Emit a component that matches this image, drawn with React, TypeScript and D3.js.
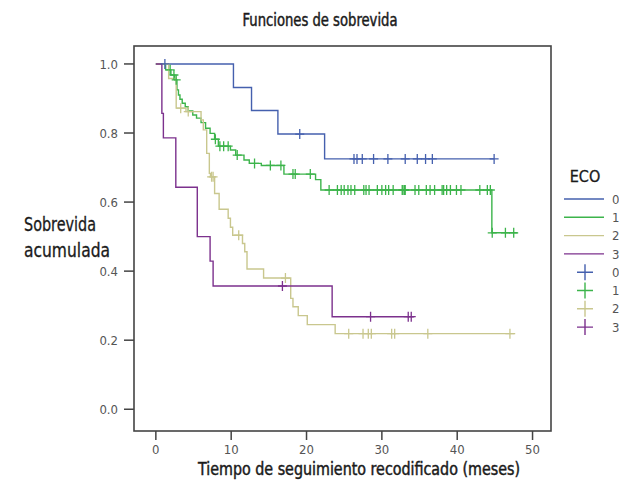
import React from "react";
import * as d3 from "d3";

// ---- data ----
const ecoGroups = ["0", "1", "2", "3"];
const ecoColors = ["#4560ae", "#3cb44b", "#c9c78e", "#7c318d"];

const eco0Steps: [number, number][] = [
  [0, 1.0], [10.3, 0.932], [12.7, 0.865], [16.2, 0.797], [22.4, 0.725],
];
const eco0Censored = [1.2, 19.1, 26.3, 26.7, 27.4, 28.9, 30.8, 33.1, 34.7, 35.8, 36.7, 44.9];
const eco0End = 44.9;

const eco1Steps: [number, number][] = [
  [0, 1.0], [1.3, 0.983], [2.0, 0.968], [2.5, 0.954], [2.8, 0.925], [3.0, 0.91],
  [3.2, 0.898], [3.5, 0.886], [3.9, 0.876], [4.3, 0.864], [4.9, 0.852], [5.4, 0.843],
  [6.0, 0.83], [6.6, 0.814], [7.2, 0.799], [7.8, 0.782], [8.3, 0.762], [9.9, 0.751],
  [10.6, 0.736], [11.7, 0.722], [12.4, 0.712], [14.0, 0.706], [17.0, 0.681],
  [21.2, 0.665], [21.9, 0.635], [44.6, 0.511],
];
const eco1Censored = [
  1.9, 2.4, 2.7, 7.9, 8.5, 9.0, 9.6, 10.8, 13.1, 15.2, 16.6, 18.2, 18.5, 20.5,
  23.0, 24.1, 24.6, 25.0, 25.5, 25.9, 26.4, 27.6, 27.9, 28.3, 29.4, 30.0, 30.5,
  30.9, 31.5, 32.7, 32.8, 33.0, 33.1, 34.4, 34.9, 35.9, 36.4, 37.0, 38.0, 38.2,
  38.6, 39.1, 39.9, 40.5, 43.0, 44.0, 44.4, 44.65, 46.4, 47.5,
];
const eco1End = 48.0;

const eco2Steps: [number, number][] = [
  [0, 1.0], [1.7, 0.958], [2.7, 0.872], [4.0, 0.862], [6.0, 0.838], [6.3, 0.809],
  [6.75, 0.741], [7.1, 0.683], [7.25, 0.673], [7.8, 0.625], [8.4, 0.579],
  [9.6, 0.553], [9.9, 0.527], [10.2, 0.504], [11.5, 0.48], [11.8, 0.456],
  [12.1, 0.406], [14.3, 0.38], [17.9, 0.321], [18.2, 0.297], [18.9, 0.271],
  [20.1, 0.245], [23.8, 0.219],
];
const eco2Censored = [3.3, 4.3, 7.4, 7.6, 11.0, 17.2, 25.6, 27.5, 28.2, 28.6, 31.3, 31.7, 36.1, 47.0];
const eco2End = 47.7;

const eco3Steps: [number, number][] = [
  [0, 1.0], [0.8, 0.857], [1.0, 0.786], [2.65, 0.643], [5.5, 0.5], [7.2, 0.429],
  [7.6, 0.357], [23.4, 0.268],
];
const eco3Censored = [16.8, 28.5, 33.5, 33.9];
const eco3End = 34.3;

const xTicks = [0, 10, 20, 30, 40, 50];
const yTicks = [0.0, 0.2, 0.4, 0.6, 0.8, 1.0];

const titleText = "Funciones de sobrevida";
const xTitle = "Tiempo de seguimiento recodificado (meses)";
const yTitleLines = ["Sobrevida", "acumulada"];
const legendTitle = "ECO";

// ---- layout ----
const W = 619;
const H = 480;
const L = 134, R = 551, T = 46, B = 431;
const FONT = "'Liberation Sans Narrow', 'DejaVu Sans Condensed', 'Arial Narrow', 'Liberation Sans', sans-serif";
const INK = "#1a1a1a";
const medium = { stroke: INK, strokeWidth: 0.45, fill: INK } as const;

const groups = [
  { steps: eco0Steps, cens: eco0Censored, end: eco0End },
  { steps: eco1Steps, cens: eco1Censored, end: eco1End },
  { steps: eco2Steps, cens: eco2Censored, end: eco2End },
  { steps: eco3Steps, cens: eco3Censored, end: eco3End },
];

function survAt(steps: [number, number][], t: number) {
  let v = steps[0][1];
  for (const [st, sv] of steps) if (st <= t) v = sv;
  return v;
}

export default function App() {
  const x = d3.scaleLinear().domain([-2.9, 52.45]).range([L, R]);
  const y = d3.scaleLinear().domain([-0.063, 1.052]).range([B, T]);
  const line = d3
    .line<[number, number]>()
    .x((d) => x(d[0]))
    .y((d) => y(d[1]))
    .curve(d3.curveStepAfter);

  const legendRowsY = d3.range(8).map((i) => 199 + i * 18.3);

  return (
    <svg width={W} height={H} style={{ position: "absolute", left: 0, top: 0, background: "#fff" }} fontFamily={FONT}>
      <rect x={0} y={0} width={W} height={H} fill="#fff" />
      <text x={320} y={26} textAnchor="middle" fontSize={17} {...medium}
        fontStretch="condensed" textLength={155} lengthAdjust="spacingAndGlyphs">
        {titleText}
      </text>

      {/* curves */}
      {groups.map((g, i) => {
        const last = g.steps[g.steps.length - 1];
        const pts: [number, number][] = [...g.steps, [g.end, last[1]]];
        return (
          <path key={"l" + i} d={line(pts) || ""} fill="none" stroke={ecoColors[i]} strokeWidth={1.4} />
        );
      })}
      {groups.map((g, i) =>
        g.cens.map((t, j) => {
          const cx = x(t);
          const cy = y(survAt(g.steps, t));
          return (
            <path
              key={"c" + i + "-" + j}
              d={`M${cx - 4.5},${cy}H${cx + 4.5}M${cx},${cy - 5}V${cy + 5}`}
              stroke={ecoColors[i]}
              strokeWidth={1.3}
              fill="none"
            />
          );
        })
      )}

      {/* frame */}
      <rect x={L} y={T} width={R - L} height={B - T} fill="none" stroke="#444" strokeWidth={1.6} />

      {/* y axis */}
      {yTicks.map((v) => (
        <g key={"y" + v}>
          <line x1={L - 10} x2={L} y1={y(v)} y2={y(v)} stroke="#444" strokeWidth={1.5} />
          <text x={118} y={y(v)} dy="0.36em" textAnchor="end" fontSize={13} fill="#555" fontStretch="condensed">
            {d3.format(".1f")(v)}
          </text>
        </g>
      ))}
      {/* x axis */}
      {xTicks.map((v) => (
        <g key={"x" + v}>
          <line x1={x(v)} x2={x(v)} y1={B} y2={B + 9} stroke="#444" strokeWidth={1.5} />
          <text x={x(v)} y={454} textAnchor="middle" fontSize={13} fill="#555" fontStretch="condensed">
            {v}
          </text>
        </g>
      ))}
      <text x={359} y={475} textAnchor="middle" fontSize={17} {...medium}
        fontStretch="condensed" textLength={322} lengthAdjust="spacingAndGlyphs">
        {xTitle}
      </text>
      <text x={24} y={231} fontSize={19} {...medium} strokeWidth={0.3} fontStretch="condensed"
        textLength={72} lengthAdjust="spacingAndGlyphs">
        {yTitleLines[0]}
      </text>
      <text x={24} y={257} fontSize={19} {...medium} strokeWidth={0.3} fontStretch="condensed"
        textLength={86} lengthAdjust="spacingAndGlyphs">
        {yTitleLines[1]}
      </text>

      {/* legend */}
      <text x={585} y={182} textAnchor="middle" fontSize={16} {...medium} strokeWidth={0.3} fontStretch="condensed">
        {legendTitle}
      </text>
      {ecoGroups.map((g, i) => (
        <g key={"lg" + i}>
          <line x1={564} x2={604} y1={legendRowsY[i]} y2={legendRowsY[i]} stroke={ecoColors[i]} strokeWidth={1.4} />
          <text x={612} y={legendRowsY[i]} dy="0.36em" fontSize={13} fill="#555" fontStretch="condensed">
            {g}
          </text>
        </g>
      ))}
      {ecoGroups.map((g, i) => {
        const cy = legendRowsY[i + 4];
        return (
          <g key={"lc" + i}>
            <path d={`M577,${cy}H593M585,${cy - 8}V${cy + 8}`} stroke={ecoColors[i]} strokeWidth={1.4} fill="none" />
            <text x={612} y={cy} dy="0.36em" fontSize={13} fill="#555" fontStretch="condensed">
              {g}
            </text>
          </g>
        );
      })}
    </svg>
  );
}
